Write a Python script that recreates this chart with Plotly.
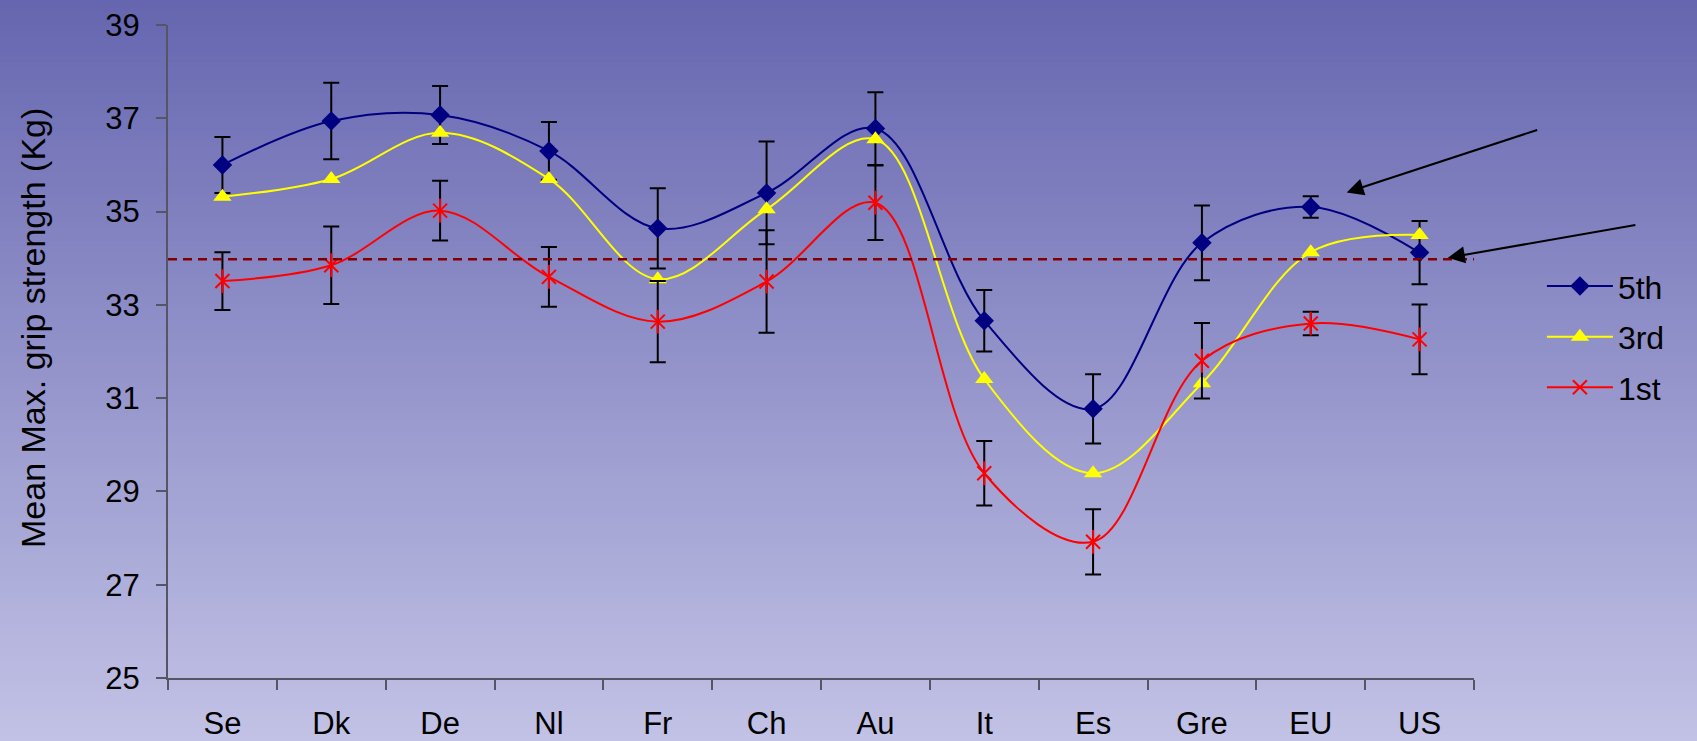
import plotly.graph_objects as go

categories = ["Se", "Dk", "De", "Nl", "Fr", "Ch", "Au", "It", "Es", "Gre", "EU", "US"]
fifth = [36.0, 36.94, 37.07, 36.30, 34.64, 35.40, 36.78, 32.66, 30.77, 34.33, 35.10, 34.12]
fifth_err = [0.60, 0.82, 0.62, 0.62, 0.86, 1.10, 0.78, 0.66, 0.74, 0.80, 0.23, 0.68]
third = [35.32, 35.70, 36.69, 35.70, 33.55, 35.05, 36.55, 31.41, 29.39, 31.32, 34.13, 34.50]
first = [33.51, 33.85, 35.02, 33.60, 32.64, 33.50, 35.19, 29.39, 27.92, 31.80, 32.60, 32.26]
first_err = [0.62, 0.83, 0.64, 0.64, 0.87, 1.10, 0.80, 0.69, 0.70, 0.81, 0.25, 0.75]
reference_level = 33.98
y_ticks = [25, 27, 29, 31, 33, 35, 37, 39]
series_names = ["5th", "3rd", "1st"]
y_title = "Mean Max. grip strength (Kg)"

W, H = 1697, 741
ML, MR, MT, MB = 168, 223, 25, 63
PW, PH = W - ML - MR, H - MT - MB

FONT = "Liberation Sans, Arial, sans-serif"

fig = go.Figure()

# 5th
fig.add_trace(go.Scatter(
    x=categories, y=fifth, name=series_names[0], mode="lines+markers",
    line=dict(color="#000080", width=2, shape="spline", smoothing=1),
    marker=dict(symbol="diamond", size=15, color="#000080"),
    error_y=dict(type="data", array=fifth_err, color="black", thickness=2, width=8),
    legendgroup="a",
))
# 3rd
fig.add_trace(go.Scatter(
    x=categories, y=third, name=series_names[1], mode="lines+markers",
    line=dict(color="#FFFF00", width=2, shape="spline", smoothing=1),
    marker=dict(symbol="triangle-up", size=16, color="#FFFF00"),
    legendgroup="b",
))
# 1st
fig.add_trace(go.Scatter(
    x=categories, y=first, name=series_names[2], mode="lines+markers",
    line=dict(color="#FF0000", width=2, shape="spline", smoothing=1),
    marker=dict(symbol="x-thin-open", size=14, color="#FF0000", line=dict(color="#FF0000", width=2)),
    error_y=dict(type="data", array=first_err, color="black", thickness=2, width=8),
    legendgroup="c",
))
fig.add_trace(go.Scatter(
    x=categories, y=first, mode="markers", showlegend=False, hoverinfo="skip",
    marker=dict(symbol="line-ns-open", size=17, color="#FF0000", line=dict(color="#FF0000", width=2)),
    legendgroup="c",
))

# gradient background bands
top = (102, 102, 176)
bot = (194, 194, 230)
n = 120
y0p = -MB / PH
y1p = 1 + MT / PH
x0p = -ML / PW
x1p = 1 + MR / PW
shapes = []
for i in range(n):
    t = i / (n - 1)
    c = tuple(round(top[k] + (bot[k] - top[k]) * t) for k in range(3))
    ya = y1p - (y1p - y0p) * i / n
    yb = y1p - (y1p - y0p) * (i + 1) / n
    if i == n - 1:
        yb -= 0.05
    shapes.append(dict(type="rect", xref="paper", yref="paper", x0=x0p - 0.01, x1=x1p + 0.01,
                       y0=yb - 0.002, y1=ya + (0.05 if i == 0 else 0), fillcolor="rgb(%d,%d,%d)" % c,
                       line=dict(width=0), layer="below"))
shapes.append(dict(type="line", xref="paper", yref="y", x0=0, x1=1,
                   y0=reference_level, y1=reference_level,
                   line=dict(color="#800000", width=2.5, dash="9px,6px")))

annotations = [
    dict(x=10.33, y=35.41, xref="x", yref="y", ax=192, ay=-63, text="",
         showarrow=True, arrowhead=2, arrowsize=1.7, arrowwidth=2, arrowcolor="black"),
    dict(x=11.26, y=34.01, xref="x", yref="y", ax=189, ay=-33, text="",
         showarrow=True, arrowhead=2, arrowsize=1.7, arrowwidth=2, arrowcolor="black"),
    dict(x=(33 - ML) / PW, y=0.536, xref="paper", yref="paper", text=y_title,
         textangle=-90, showarrow=False, xanchor="center", yanchor="middle",
         font=dict(size=34, family=FONT, color="black")),
]

fig.update_layout(
    width=W, height=H,
    margin=dict(l=ML, r=MR, t=MT, b=MB, pad=0, autoexpand=False),
    paper_bgcolor="#b0b0dc", plot_bgcolor="rgba(0,0,0,0)",
    shapes=shapes, annotations=annotations,
    font=dict(family=FONT, size=31, color="black"),
    showlegend=True,
    legend=dict(x=1.052, y=0.642, xanchor="left", yanchor="top",
                bgcolor="rgba(0,0,0,0)", font=dict(size=32, family=FONT),
                traceorder="grouped", tracegroupgap=6, itemwidth=66),
    xaxis=dict(range=[-0.5, 11.5], showgrid=False, zeroline=False, automargin=False,
               showline=True, linecolor="#555566", linewidth=2,
               ticks="outside", ticklen=10, tickwidth=2, tickcolor="#555566",
               tickson="boundaries", ticklabelstandoff=17,
               tickfont=dict(size=31, family=FONT)),
    yaxis=dict(range=[25, 39], tickvals=y_ticks, showgrid=False, zeroline=False, automargin=False,
               showline=True, linecolor="#555566", linewidth=2,
               ticks="outside", ticklen=10, tickwidth=2, tickcolor="#555566",
               ticklabelstandoff=10,
               tickfont=dict(size=31, family=FONT)),
)

fig.write_html("out.html", config={"displayModeBar": False},
               post_script="document.body.style.margin='0';document.body.style.overflow='hidden';")
